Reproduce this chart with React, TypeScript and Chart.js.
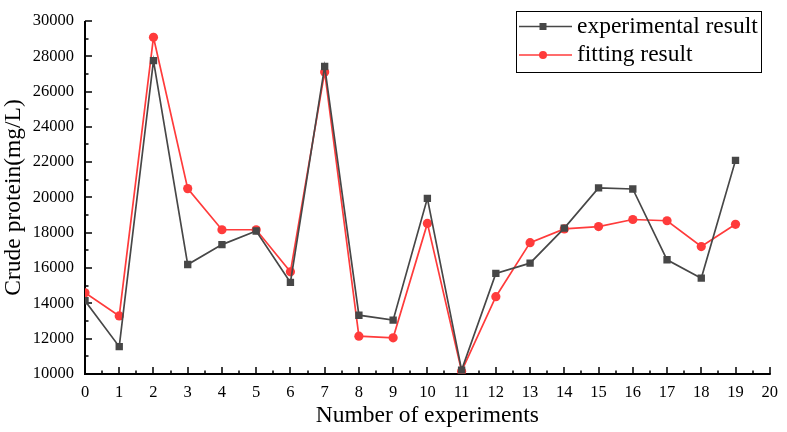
import React, { useEffect, useRef } from "react";
import { Chart, registerables } from "chart.js";

Chart.register(...registerables);

// Experiment index on the x axis
const experimentNo = [0, 1, 2, 3, 4, 5, 6, 7, 8, 9, 10, 11, 12, 13, 14, 15, 16, 17, 18, 19];

// Crude protein, mg/L
const experimentalResult = [
  14150, 11550, 27750, 16200, 17330, 18100, 15190, 27420, 13330, 13050,
  19950, 10220, 15700, 16280, 18260, 20540, 20480, 16470, 15430, 22100,
];
const fittingResult = [
  14600, 13290, 29070, 20500, 18170, 18170, 15790, 27110, 12140, 12050,
  18530, 10160, 14380, 17440, 18220, 18350, 18750, 18680, 17220, 18480,
];

const seriesNames = ["experimental result", "fitting result"];
const xTitle = "Number of experiments";
const yTitle = "Crude protein(mg/L)";

const GREY = "#474747";
const RED = "#ff3b3b";
const FONT = "'Liberation Serif', 'Times New Roman', serif";

// Axis lines with inward major/minor ticks (left and bottom only)
const axisPlugin = {
  id: "inwardAxes",
  beforeDatasetsDraw(chart: any) {
    const { ctx, chartArea } = chart;
    const xs = chart.scales.x;
    const ys = chart.scales.y;
    ctx.save();
    ctx.strokeStyle = "#000";
    ctx.lineWidth = 2;
    ctx.lineCap = "butt";
    ctx.beginPath();
    ctx.moveTo(chartArea.left, chartArea.top);
    ctx.lineTo(chartArea.left, chartArea.bottom);
    ctx.lineTo(chartArea.right + 1, chartArea.bottom);
    ctx.stroke();

    ctx.lineWidth = 1.5;
    ctx.beginPath();
    for (let v = xs.min; v <= xs.max + 1e-9; v += 0.5) {
      const px = Math.round(xs.getPixelForValue(v));
      const len = Number.isInteger(v) ? 7 : 3.5;
      ctx.moveTo(px, chartArea.bottom);
      ctx.lineTo(px, chartArea.bottom - len);
    }
    for (let v = ys.min; v <= ys.max + 1e-9; v += 1000) {
      const py = Math.round(ys.getPixelForValue(v));
      const len = v % 2000 === 0 ? 7 : 3.5;
      ctx.moveTo(chartArea.left, py);
      ctx.lineTo(chartArea.left + len, py);
    }
    ctx.stroke();
    ctx.restore();
  },
};

// Boxed legend in the upper right corner
const legendPlugin = {
  id: "boxLegend",
  afterDraw(chart: any) {
    const { ctx } = chart;
    const boxL = 516;
    const boxT = 11;
    const boxR = 761;
    const boxB = 72;
    ctx.save();
    ctx.fillStyle = "#fff";
    ctx.fillRect(boxL, boxT, boxR - boxL, boxB - boxT);
    ctx.strokeStyle = "#000";
    ctx.lineWidth = 1;
    ctx.strokeRect(boxL + 0.5, boxT + 0.5, boxR - boxL, boxB - boxT);

    const rows = [26.5, 55];
    chart.data.datasets.forEach((ds: any, i: number) => {
      const y = rows[i];
      ctx.strokeStyle = ds.borderColor;
      ctx.lineWidth = 1.6;
      ctx.beginPath();
      ctx.moveTo(519, y);
      ctx.lineTo(572, y);
      ctx.stroke();
      ctx.fillStyle = ds.borderColor;
      if (ds.pointStyle === "rect") {
        ctx.fillRect(543 - 3.5, y - 3.5, 7, 7);
      } else {
        ctx.beginPath();
        ctx.arc(543, y, 4, 0, Math.PI * 2);
        ctx.fill();
      }
      ctx.fillStyle = "#000";
      ctx.font = `23.5px ${FONT}`;
      ctx.textBaseline = "middle";
      ctx.textAlign = "left";
      ctx.fillText(ds.label, 577, y);
    });
    ctx.restore();
  },
};

export default function App() {
  const canvasRef = useRef<HTMLCanvasElement | null>(null);

  useEffect(() => {
    if (!canvasRef.current) return;
    const toPoints = (vals: number[]) => experimentNo.map((x, i) => ({ x, y: vals[i] }));

    const chart = new Chart(canvasRef.current, {
      type: "line",
      data: {
        datasets: [
          {
            label: seriesNames[0],
            data: toPoints(experimentalResult),
            borderColor: GREY,
            backgroundColor: GREY,
            borderWidth: 1.7,
            pointStyle: "rect",
            pointRadius: 5.2,
            pointBorderWidth: 0,
            tension: 0,
          },
          {
            label: seriesNames[1],
            data: toPoints(fittingResult),
            borderColor: RED,
            backgroundColor: RED,
            borderWidth: 1.7,
            pointStyle: "circle",
            pointRadius: 4.6,
            pointBorderWidth: 0,
            tension: 0,
          },
        ],
      },
      options: {
        responsive: false,
        animation: false,
        layout: { padding: { left: 0, top: 9, right: 10, bottom: 0 } },
        plugins: {
          legend: { display: false },
          tooltip: { enabled: false },
        },
        scales: {
          x: {
            type: "linear",
            min: 0,
            max: 20,
            grid: { display: false, drawTicks: false },
            border: { display: false },
            ticks: {
              stepSize: 1,
              padding: 9,
              color: "#000",
              font: { family: FONT, size: 16.5 },
              maxRotation: 0,
              callback: (v: any) => String(v),
            },
            title: {
              display: true,
              text: xTitle,
              color: "#000",
              font: { family: FONT, size: 23.5 },
              padding: { top: 2, bottom: 2 },
            },
            afterFit(scale: any) {
              scale.height = 58;
            },
          },
          y: {
            min: 10000,
            max: 30000,
            grid: { display: false, drawTicks: false },
            border: { display: false },
            ticks: {
              stepSize: 2000,
              padding: 11,
              color: "#000",
              font: { family: FONT, size: 16.5 },
              callback: (v: any) => String(v),
            },
            title: {
              display: true,
              text: yTitle,
              color: "#000",
              font: { family: FONT, size: 23.5 },
              padding: { top: 0, bottom: 0 },
            },
            afterFit(scale: any) {
              scale.width = 85;
            },
          },
        },
      },
      plugins: [axisPlugin, legendPlugin],
    });

    return () => chart.destroy();
  }, []);

  return (
    <div style={{ position: "fixed", left: 0, top: 0, width: 787, height: 432, background: "#fff" }}>
      <canvas ref={canvasRef} width={787} height={432} style={{ display: "block" }} />
    </div>
  );
}
